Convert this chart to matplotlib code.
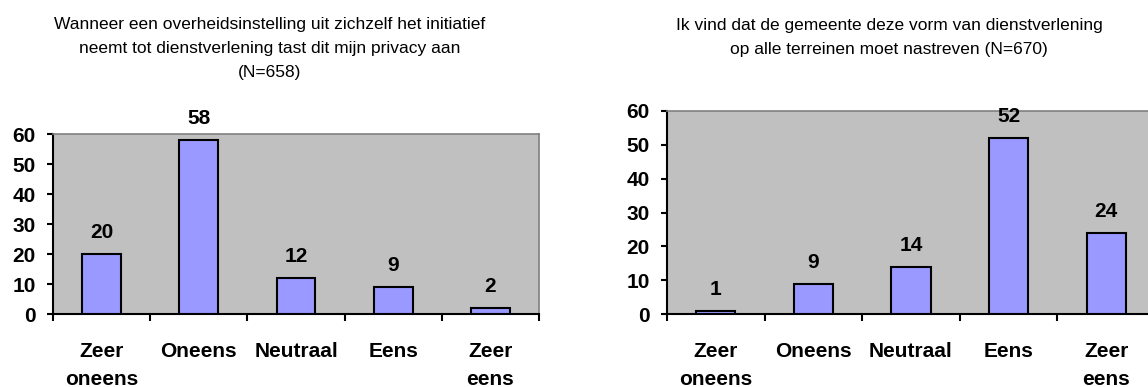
import numpy as np
import matplotlib
matplotlib.use("Agg")
import matplotlib.pyplot as plt

plt.rcParams['font.family'] = ['Liberation Sans', 'DejaVu Sans']

# Data
categories = ["Zeer\noneens", "Oneens", "Neutraal", "Eens", "Zeer\neens"]
privacy_values = [20, 58, 12, 9, 2]
nastreven_values = [1, 9, 14, 52, 24]
title_left = ("Wanneer een overheidsinstelling uit zichzelf het initiatief\n"
              "neemt tot dienstverlening tast dit mijn privacy aan\n(N=658)")
title_right = ("Ik vind dat de gemeente deze vorm van dienstverlening\n"
               "op alle terreinen moet nastreven (N=670)")
yticks = [0, 10, 20, 30, 40, 50, 60]

W, H = 1148, 387
fig = plt.figure(figsize=(W / 100, H / 100), dpi=100)


def draw_panel(rect, values):
    l, t, r, b = rect
    ax = fig.add_axes([l / W, 1 - b / H, (r - l) / W, (b - t) / H])
    ax.set_facecolor('#C0C0C0')
    x = np.arange(len(values)) + 0.5
    ax.bar(x, values, width=0.4, color='#9999FF', edgecolor='black', linewidth=1.5, zorder=3)
    for xi, v in zip(x, values):
        ax.annotate(str(v), (xi, v), xytext=(0, 15.5), textcoords='offset points',
                    ha='center', va='center', fontsize=15, fontweight='bold')
    ax.set_xlim(0, len(values))
    ax.set_ylim(0, 60)
    ax.set_yticks(yticks)
    ax.set_yticklabels([str(v) for v in yticks], fontsize=15, fontweight='bold')
    ax.set_xticks(np.arange(len(values) + 1))
    ax.set_xticklabels([])
    ax.set_xticks(x, minor=True)
    ax.set_xticklabels(categories, minor=True, fontsize=15, fontweight='bold',
                       va='top', linespacing=1.6)
    ax.tick_params(axis='x', which='major', direction='out', length=5, width=1.5)
    ax.tick_params(axis='x', which='minor', length=0, pad=20)
    ax.tick_params(axis='y', direction='out', length=4.5, width=1.5, pad=8)
    for s in ['left', 'bottom']:
        ax.spines[s].set_color('black')
        ax.spines[s].set_linewidth(1.5)
    for s in ['top', 'right']:
        ax.spines[s].set_color('#808080')
        ax.spines[s].set_linewidth(1.2)
    return ax


draw_panel((53, 134, 539, 314), privacy_values)
draw_panel((667, 111, 1155, 314), nastreven_values)

fig.text(270 / W, 1 - 17 / H, title_left, ha='center', va='top', fontsize=12.5, linespacing=1.75)
fig.text(889 / W, 1 - 18 / H, title_right, ha='center', va='top', fontsize=12.5, linespacing=1.75)

fig.savefig("out.png", dpi=100)
